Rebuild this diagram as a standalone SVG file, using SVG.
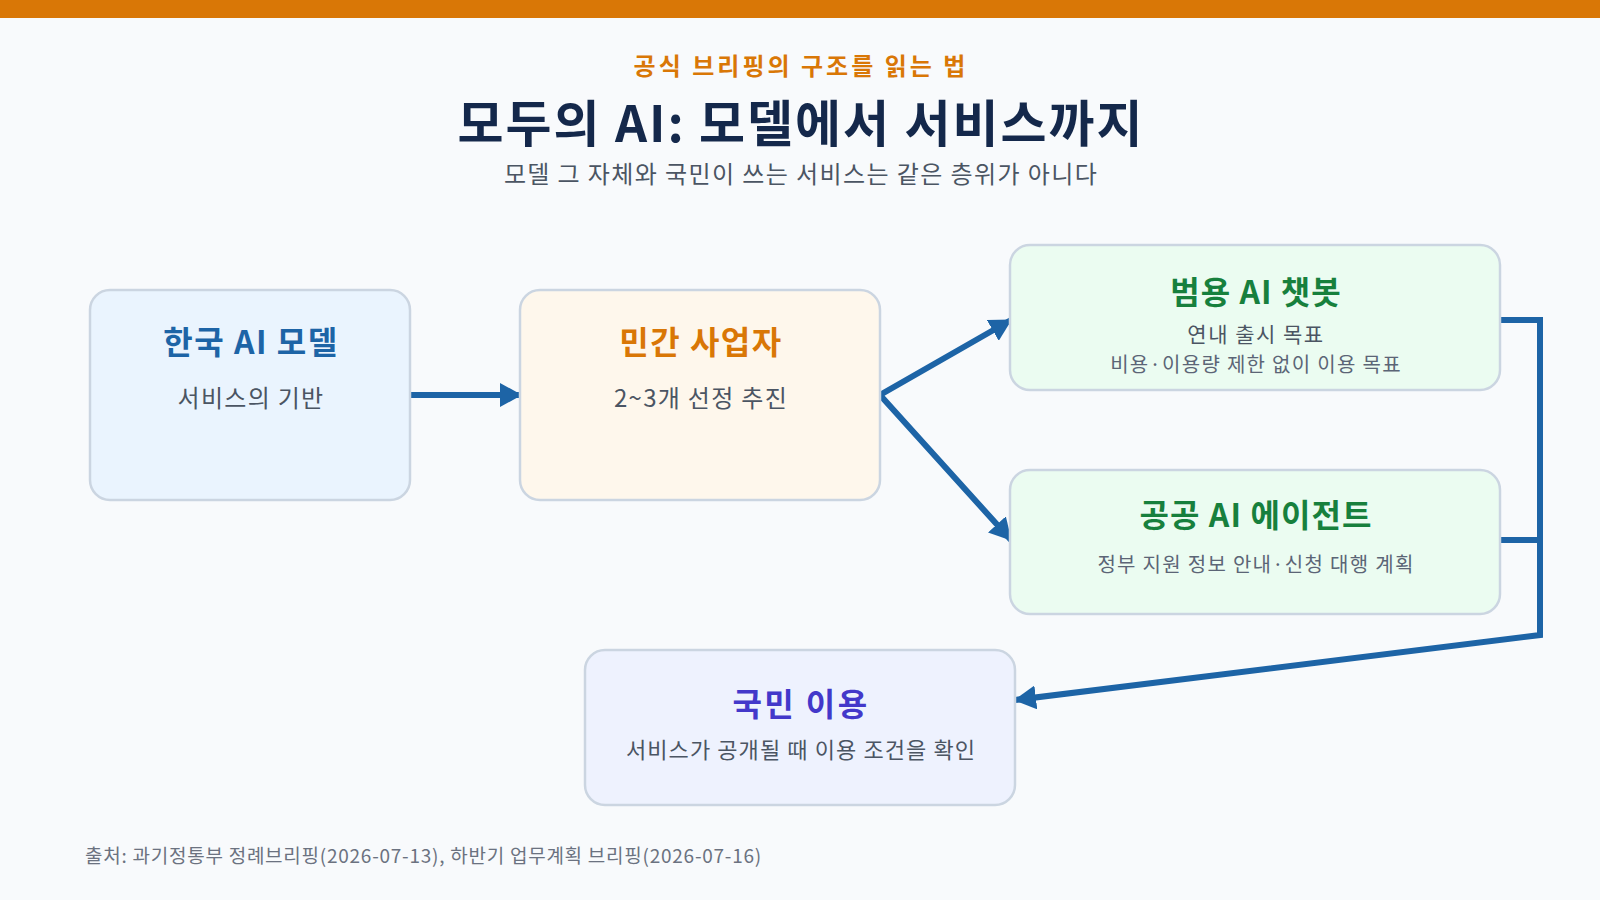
<svg xmlns="http://www.w3.org/2000/svg" width="1600" height="900" viewBox="0 0 1600 900">
<defs>
<style>
text{font-family:"Noto Sans CJK KR","Noto Sans",sans-serif;text-anchor:middle}
.box{stroke:#CBD5E1;stroke-width:2.5}
.ttl{font-size:32px;font-weight:700;letter-spacing:1.5px}
.sub{font-size:24px;fill:#4B5563;letter-spacing:1.3px}
.sub2{font-size:20px;fill:#5B6576;letter-spacing:1.3px}
.conn{fill:none;stroke:#1D64A6;stroke-width:6;stroke-linejoin:miter}
</style>
<marker id="ah" markerUnits="userSpaceOnUse" markerWidth="22" markerHeight="24" viewBox="0 0 22 24" refX="21" refY="12" orient="auto-start-reverse">
<path d="M0,0 L22,12 L0,24 z" fill="#1D64A6"/>
</marker>
</defs>
<rect x="0" y="0" width="1600" height="900" fill="#F8FAFC"/>
<rect x="0" y="0" width="1600" height="18" fill="#D97706"/>
<g id="header">
<text x="801" y="75" style="font-size:24px;font-weight:700;fill:#D97706;letter-spacing:3px">공식 브리핑의 구조를 읽는 법</text>
<text x="801" y="142" style="font-size:50px;font-weight:700;fill:#14284B;letter-spacing:2px">모두의 AI: 모델에서 서비스까지</text>
<text x="801" y="183" style="font-size:24px;fill:#4B5563;letter-spacing:1.4px">모델 그 자체와 국민이 쓰는 서비스는 같은 층위가 아니다</text>
</g>
<g id="connectors">
<path class="conn" d="M410,395 L521,395" marker-end="url(#ah)"/>
<path class="conn" d="M1011,320 L880,395 L1011,540" marker-start="url(#ah)" marker-end="url(#ah)"/>
<path class="conn" d="M1500,320 L1540,320 L1540,635 L1015,700" marker-end="url(#ah)"/>
<path class="conn" d="M1500,540 L1540,540"/>
</g>
<g id="node-model">
<rect class="box" x="90" y="290" width="320" height="210" rx="20" fill="#EAF4FE"/>
<text class="ttl" x="251" y="354" fill="#1D64A6">한국 AI 모델</text>
<text class="sub" x="251" y="407">서비스의 기반</text>
</g>
<g id="node-private">
<rect class="box" x="520" y="290" width="360" height="210" rx="20" fill="#FEF7EC"/>
<text class="ttl" x="701" y="354" fill="#D97706">민간 사업자</text>
<text class="sub" x="701" y="407">2~3개 선정 추진</text>
</g>
<g id="node-chatbot">
<rect class="box" x="1010" y="245" width="490" height="145" rx="20" fill="#EBFCF1"/>
<text class="ttl" x="1256" y="304" fill="#17803D" style="letter-spacing:1px">범용 AI 챗봇</text>
<text x="1256" y="342" style="font-size:21px;fill:#4B5563;letter-spacing:1.5px">연내 출시 목표</text>
<text class="sub2" x="1256" y="372">비용·이용량 제한 없이 이용 목표</text>
</g>
<g id="node-agent">
<rect class="box" x="1010" y="470" width="490" height="144" rx="20" fill="#EBFCF1"/>
<text class="ttl" x="1256" y="527" fill="#17803D" style="letter-spacing:1.1px">공공 AI 에이전트</text>
<text class="sub2" x="1256" y="572">정부 지원 정보 안내·신청 대행 계획</text>
</g>
<g id="node-citizen">
<rect class="box" x="585" y="650" width="430" height="155" rx="20" fill="#EEF2FE"/>
<text class="ttl" x="801" y="716" fill="#4338CA" style="letter-spacing:2.4px">국민 이용</text>
<text x="801" y="758" style="font-size:22px;fill:#4B5563;letter-spacing:1.1px">서비스가 공개될 때 이용 조건을 확인</text>
</g>
<g id="footer">
<text x="85" y="863" style="font-size:19px;fill:#6B7280;text-anchor:start;letter-spacing:0.75px">출처: 과기정통부 정례브리핑(2026-07-13), 하반기 업무계획 브리핑(2026-07-16)</text>
</g>
</svg>
